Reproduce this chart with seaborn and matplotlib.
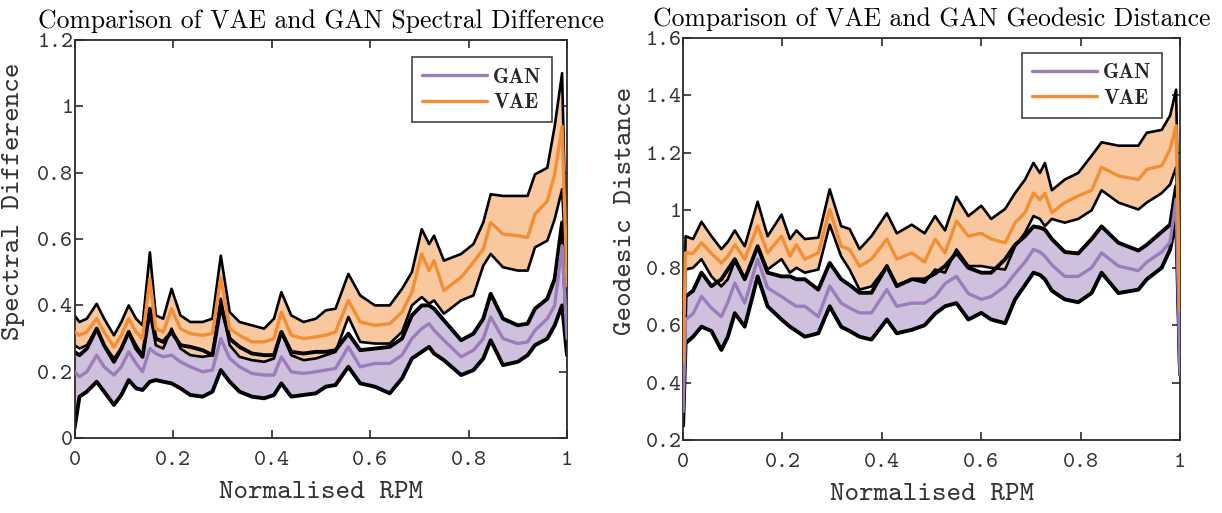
import matplotlib
matplotlib.use("Agg")
import matplotlib.pyplot as plt
from matplotlib.ticker import FuncFormatter
import seaborn as sns
import pandas as pd

# ---------------- data: Spectral Difference panel ----------------
x_spec = [0, 0.01, 0.025, 0.045, 0.06, 0.08, 0.095, 0.11, 0.125, 0.138, 0.153, 0.165, 0.18,
          0.197, 0.215, 0.235, 0.26, 0.28, 0.297, 0.315, 0.335, 0.36, 0.385, 0.405, 0.42,
          0.44, 0.465, 0.49, 0.51, 0.53, 0.556, 0.58, 0.61, 0.64, 0.665, 0.685, 0.705, 0.72,
          0.73, 0.75, 0.785, 0.81, 0.83, 0.845, 0.87, 0.9, 0.92, 0.935, 0.96, 0.975, 0.99, 1.0]
vae_spec_up = [0.37, 0.35, 0.36, 0.405, 0.36, 0.31, 0.35, 0.40, 0.36, 0.34, 0.56, 0.37, 0.36,
               0.45, 0.37, 0.35, 0.35, 0.36, 0.55, 0.38, 0.35, 0.34, 0.33, 0.36, 0.44,
               0.37, 0.35, 0.36, 0.385, 0.39, 0.495, 0.43, 0.40, 0.40, 0.45, 0.50, 0.63, 0.585,
               0.61, 0.535, 0.555, 0.585, 0.65, 0.735, 0.73, 0.73, 0.73, 0.795, 0.815, 0.94, 1.10, 0.46]
vae_spec_mean = [0.32, 0.31, 0.32, 0.36, 0.32, 0.275, 0.31, 0.36, 0.32, 0.30, 0.48, 0.33, 0.32,
                 0.39, 0.33, 0.315, 0.31, 0.315, 0.485, 0.33, 0.31, 0.29, 0.29, 0.30, 0.38,
                 0.31, 0.30, 0.305, 0.31, 0.32, 0.415, 0.35, 0.34, 0.345, 0.38, 0.44, 0.555, 0.505,
                 0.535, 0.445, 0.485, 0.53, 0.57, 0.65, 0.615, 0.61, 0.605, 0.675, 0.715, 0.795, 0.94, 0.46]
vae_spec_lo = [0.28, 0.27, 0.28, 0.33, 0.28, 0.24, 0.27, 0.32, 0.28, 0.25, 0.38, 0.28, 0.27,
               0.33, 0.27, 0.25, 0.245, 0.25, 0.42, 0.28, 0.245, 0.235, 0.23, 0.24, 0.32,
               0.25, 0.235, 0.24, 0.25, 0.26, 0.365, 0.29, 0.285, 0.285, 0.32, 0.40, 0.425, 0.405,
               0.415, 0.375, 0.415, 0.43, 0.52, 0.555, 0.515, 0.505, 0.505, 0.575, 0.595, 0.66, 0.75, 0.46]
gan_spec_up = [0.26, 0.25, 0.27, 0.33, 0.28, 0.23, 0.27, 0.32, 0.27, 0.245, 0.39, 0.30, 0.29,
               0.32, 0.28, 0.275, 0.265, 0.25, 0.40, 0.30, 0.275, 0.255, 0.25, 0.25, 0.32,
               0.26, 0.255, 0.26, 0.26, 0.265, 0.315, 0.265, 0.27, 0.275, 0.30, 0.37, 0.40, 0.40,
               0.39, 0.355, 0.295, 0.315, 0.36, 0.435, 0.36, 0.34, 0.345, 0.39, 0.42, 0.48, 0.65, 0.30]
gan_spec_mean = [0.20, 0.185, 0.20, 0.25, 0.215, 0.19, 0.215, 0.26, 0.225, 0.20, 0.27, 0.255, 0.245,
                 0.25, 0.23, 0.215, 0.20, 0.205, 0.30, 0.24, 0.215, 0.195, 0.19, 0.19, 0.245,
                 0.20, 0.195, 0.20, 0.205, 0.21, 0.275, 0.215, 0.225, 0.225, 0.25, 0.30, 0.33, 0.345,
                 0.325, 0.295, 0.245, 0.265, 0.30, 0.365, 0.30, 0.285, 0.29, 0.325, 0.36, 0.40, 0.58, 0.30]
gan_spec_lo = [0.03, 0.125, 0.14, 0.17, 0.14, 0.10, 0.13, 0.175, 0.15, 0.145, 0.17, 0.175, 0.17,
               0.165, 0.15, 0.13, 0.125, 0.14, 0.205, 0.17, 0.14, 0.125, 0.12, 0.13, 0.165,
               0.125, 0.13, 0.135, 0.155, 0.16, 0.215, 0.165, 0.155, 0.135, 0.18, 0.24, 0.26, 0.275,
               0.255, 0.235, 0.19, 0.205, 0.24, 0.295, 0.22, 0.23, 0.25, 0.28, 0.30, 0.34, 0.40, 0.25]

# ---------------- data: Geodesic Distance panel ----------------
x_geo = [0, 0.005, 0.02, 0.037, 0.057, 0.077, 0.09, 0.104, 0.124, 0.15, 0.17, 0.198, 0.215,
         0.228, 0.245, 0.272, 0.295, 0.318, 0.335, 0.355, 0.379, 0.41, 0.43, 0.46, 0.486,
         0.507, 0.527, 0.55, 0.574, 0.6, 0.62, 0.648, 0.668, 0.688, 0.705, 0.718, 0.728,
         0.742, 0.768, 0.795, 0.822, 0.842, 0.876, 0.916, 0.933, 0.963, 0.98, 0.992, 1.0]
vae_geo_up = [0.47, 0.91, 0.90, 0.96, 0.91, 0.865, 0.89, 0.93, 0.875, 1.03, 0.91, 0.985, 0.90,
              0.93, 0.90, 0.905, 1.073, 0.945, 0.935, 0.865, 0.91, 0.99, 0.92, 0.95, 0.92,
              0.98, 0.93, 1.047, 0.98, 1.016, 0.97, 1.005, 1.06, 1.107, 1.165, 1.13, 1.165,
              1.07, 1.107, 1.13, 1.19, 1.237, 1.225, 1.225, 1.27, 1.28, 1.33, 1.42, 0.65]
vae_geo_mean = [0.47, 0.852, 0.85, 0.887, 0.85, 0.817, 0.84, 0.88, 0.83, 0.945, 0.852, 0.91, 0.84,
                0.88, 0.83, 0.852, 1.003, 0.875, 0.864, 0.805, 0.83, 0.90, 0.83, 0.852, 0.82,
                0.90, 0.852, 0.963, 0.91, 0.92, 0.90, 0.887, 0.957, 0.992, 1.06, 1.037, 1.06,
                0.992, 1.027, 1.05, 1.07, 1.15, 1.12, 1.107, 1.143, 1.155, 1.213, 1.295, 0.65]
vae_geo_lo = [0.47, 0.794, 0.80, 0.83, 0.77, 0.735, 0.76, 0.823, 0.76, 0.875, 0.794, 0.83, 0.783,
              0.80, 0.783, 0.794, 0.95, 0.84, 0.794, 0.724, 0.735, 0.806, 0.74, 0.76, 0.748,
              0.794, 0.783, 0.864, 0.806, 0.806, 0.80, 0.794, 0.875, 0.922, 0.98, 0.97, 0.945,
              0.97, 0.957, 0.97, 1.00, 1.07, 1.027, 1.003, 1.027, 1.06, 1.09, 1.15, 0.65]
gan_geo_up = [0.30, 0.70, 0.72, 0.783, 0.736, 0.76, 0.794, 0.83, 0.76, 0.875, 0.783, 0.77, 0.77,
              0.76, 0.76, 0.724, 0.817, 0.76, 0.74, 0.713, 0.713, 0.806, 0.736, 0.76, 0.76,
              0.78, 0.806, 0.852, 0.80, 0.783, 0.783, 0.83, 0.88, 0.91, 0.944, 0.94, 0.933,
              0.90, 0.855, 0.85, 0.90, 0.944, 0.887, 0.86, 0.88, 0.925, 0.95, 1.084, 0.43]
gan_geo_mean = [0.30, 0.62, 0.64, 0.70, 0.66, 0.63, 0.68, 0.747, 0.677, 0.83, 0.73, 0.70, 0.68,
                0.666, 0.666, 0.63, 0.736, 0.677, 0.66, 0.643, 0.643, 0.724, 0.666, 0.677, 0.677,
                0.70, 0.745, 0.77, 0.71, 0.69, 0.70, 0.736, 0.78, 0.82, 0.864, 0.855, 0.84,
                0.81, 0.77, 0.77, 0.80, 0.852, 0.806, 0.79, 0.82, 0.855, 0.89, 1.04, 0.43]
gan_geo_lo = [0.25, 0.537, 0.56, 0.595, 0.58, 0.514, 0.56, 0.642, 0.595, 0.77, 0.666, 0.62, 0.595,
              0.58, 0.56, 0.572, 0.666, 0.595, 0.58, 0.56, 0.55, 0.62, 0.572, 0.584, 0.60,
              0.64, 0.666, 0.677, 0.62, 0.643, 0.62, 0.607, 0.69, 0.74, 0.783, 0.775, 0.76,
              0.72, 0.69, 0.68, 0.712, 0.783, 0.712, 0.724, 0.76, 0.80, 0.864, 0.97, 0.43]

series_names = ["GAN", "VAE"]
x_ticks = [0, 0.2, 0.4, 0.6, 0.8, 1]
y_ticks_spec = [0, 0.2, 0.4, 0.6, 0.8, 1.0, 1.2]
y_ticks_geo = [0.2, 0.4, 0.6, 0.8, 1.0, 1.2, 1.4, 1.6]

titles = ["Comparison of VAE and GAN Spectral Difference",
          "Comparison of VAE and GAN Geodesic Distance"]
ylabels = ["Spectral Difference", "Geodesic Distance"]
xlabel = "Normalised RPM"

# ---------------- style ----------------
sns.set_style("ticks")
MONO = ["cmtt10", "Liberation Mono", "DejaVu Sans Mono"]
plt.rcParams["font.family"] = MONO
plt.rcParams["axes.unicode_minus"] = False
plt.rcParams["axes.formatter.use_mathtext"] = True

LINE = {"GAN": "#9B7EB9", "VAE": "#F28E35"}
FILL = {"GAN": "#CFC0DE", "VAE": "#F9C89F"}
AX_COL = "#2b2b2b"
TXT_COL = "#333333"

fig = plt.figure(figsize=(12.22, 5.13), dpi=100)
ax1 = fig.add_axes([0.061, 0.146, 0.403, 0.776])
ax2 = fig.add_axes([0.559, 0.142, 0.4067, 0.784])


def draw_panel(ax, x, bands, ylim, yticks, title, ylabel, ylab_xy, leg_anchor):
    for name in series_names:
        lo, mean, up = bands[name]
        ax.fill_between(x, lo, up, color=FILL[name], linewidth=0, zorder=1)
    for name in series_names:
        lo, mean, up = bands[name]
        lw = 2.8 if name == "GAN" else 1.9
        df_b = pd.DataFrame({"x": list(x) * 2, "y": list(lo) + list(up),
                             "b": ["lo"] * len(x) + ["up"] * len(x)})
        sns.lineplot(data=df_b, x="x", y="y", units="b", estimator=None, color="black",
                     linewidth=lw, ax=ax, zorder=2, legend=False)
    for name in series_names:
        lo, mean, up = bands[name]
        df_m = pd.DataFrame({"x": x, "y": mean})
        sns.lineplot(data=df_m, x="x", y="y", color=LINE[name], linewidth=2.4,
                     ax=ax, zorder=3, label=name)
    ax.set_xlim(0, 1)
    ax.set_ylim(*ylim)
    ax.set_xticks(x_ticks)
    ax.set_yticks(yticks)
    fmt = FuncFormatter(lambda v, p: "%g" % round(v, 2))
    ax.xaxis.set_major_formatter(fmt)
    ax.yaxis.set_major_formatter(fmt)
    ax.tick_params(direction="in", length=6, width=1.2, colors=AX_COL, labelsize=16.5,
                   top=True, right=True, labelcolor=TXT_COL)
    ax.tick_params(axis="x", pad=9)
    ax.tick_params(axis="y", pad=1)
    for s in ax.spines.values():
        s.set_visible(True)
        s.set_color(AX_COL)
        s.set_linewidth(1.3)
    ax.set_title(title, fontfamily="cmr10", fontsize=18.5, pad=8.5, color="black")
    ax.set_xlabel(xlabel, fontsize=20, color=TXT_COL, labelpad=8)
    ax.set_ylabel(ylabel, fontsize=20, color=TXT_COL)
    ax.yaxis.set_label_coords(*ylab_xy)
    leg = ax.legend(loc="upper right", bbox_to_anchor=leg_anchor, borderaxespad=0,
                    frameon=True, fancybox=False, edgecolor=TXT_COL, framealpha=1,
                    prop={"family": "cmb10", "size": 15},
                    handlelength=3.1, handletextpad=0.3, borderpad=0.5, labelspacing=0.3)
    leg.get_frame().set_linewidth(1.1)


draw_panel(ax1, x_spec,
           {"GAN": (gan_spec_lo, gan_spec_mean, gan_spec_up),
            "VAE": (vae_spec_lo, vae_spec_mean, vae_spec_up)},
           (0, 1.2), y_ticks_spec, titles[0], ylabels[0], (-0.10, 0.595), (0.9695, 0.957))
draw_panel(ax2, x_geo,
           {"GAN": (gan_geo_lo, gan_geo_mean, gan_geo_up),
            "VAE": (vae_geo_lo, vae_geo_mean, vae_geo_up)},
           (0.2, 1.6), y_ticks_geo, titles[1], ylabels[1], (-0.093, 0.57), (0.964, 0.9625))

fig.savefig("out.png", dpi=100)
